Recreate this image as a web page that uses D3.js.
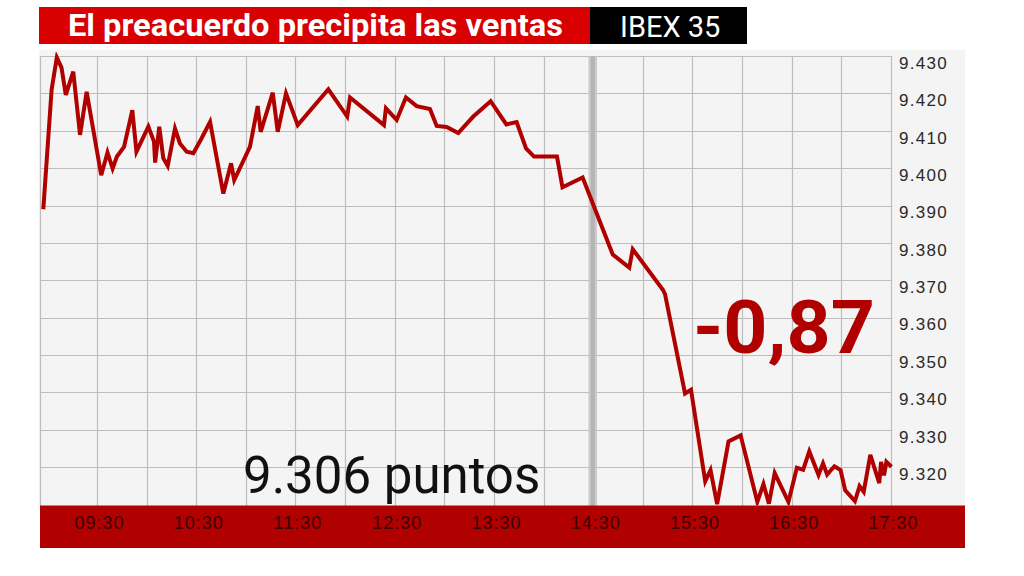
<!DOCTYPE html>
<html><head><meta charset="utf-8">
<script src="https://cdn.jsdelivr.net/npm/d3@7"></script>
<style>
html,body{margin:0;padding:0;background:#fff;}
svg{display:block;}
</style></head>
<body>
<svg id="c" width="1024" height="576"></svg>
<script>
// ---- data ----
const titleText = "El preacuerdo precipita las ventas";
const indexName = "IBEX 35";
const closeText = "9.306 puntos";
const changeText = "-0,87";
const times = ["08:57:00","09:02:00","09:05:10","09:08:00","09:10:36","09:15:06","09:19:12","09:23:12","09:32:00","09:35:48",
"09:38:54","09:41:30","09:45:48","09:50:48","09:53:18","10:00:30","10:03:54","10:04:36","10:07:06","10:09:30",
"10:12:12","10:16:36","10:19:36","10:23:42","10:27:42","10:32:42","10:37:48","10:45:48","10:50:30","10:52:24",
"11:01:54","11:06:36","11:08:24","11:15:42","11:18:42","11:23:42","11:30:48","11:49:18","12:00:42","12:02:24",
"12:22:54","12:24:06","12:30:36","12:36:12","12:42:42","12:50:42","12:54:48","13:00:48","13:07:48","13:16:54",
"13:27:24","13:36:54","13:43:06","13:48:48","13:53:36","14:07:30","14:10:48","14:23:00","14:41:12","14:51:12",
"14:53:18","15:11:36","15:12:48","15:24:54","15:28:30","15:37:06","15:40:18","15:44:18","15:51:12","15:58:30",
"16:08:36","16:12:18","16:15:36","16:19:06","16:27:24","16:32:30","16:36:18","16:40:00","16:45:36","16:48:18",
"16:50:48","16:52:30","16:55:12","16:58:54","17:01:42","17:07:36","17:10:24","17:12:54","17:16:54","17:22:18",
"17:23:24","17:25:12","17:26:36","17:29:42"];
const values = [9389.0,9420.9,9429.6,9426.9,9419.6,9425.8,9408.9,9420.4,9398.1,9404.2,
9399.9,9403.1,9405.7,9415.5,9404.4,9411.1,9407.1,9401.5,9411.1,9402.7,
9400.6,9410.6,9406.6,9404.4,9404.0,9408.0,9412.4,9393.2,9401.3,9396.8,
9405.7,9416.6,9409.7,9420.2,9409.7,9420.0,9411.5,9421.1,9413.8,9418.9,
9411.5,9416.0,9412.9,9418.9,9416.6,9415.8,9411.3,9411.0,9409.4,9413.8,
9417.9,9411.7,9412.3,9405.3,9403.1,9403.1,9394.9,9397.5,9376.9,9373.4,
9378.3,9367.4,9366.3,9339.7,9340.7,9316.2,9319.2,9310.1,9326.9,9328.5,
9310.7,9315.5,9310.2,9318.4,9310.7,9319.8,9319.3,9324.2,9317.9,9321.0,
9318.0,9318.9,9320.2,9319.2,9313.8,9310.9,9314.9,9313.4,9323.3,9315.7,
9321.4,9317.8,9321.4,9320.1];
const yTicks = [9320,9330,9340,9350,9360,9370,9380,9390,9400,9410,9420,9430];
const xTickLabels = ["09:30","10:30","11:30","12:30","13:30","14:30","15:30","16:30","17:30"];
const gridTimes = ["09:30","10:00","10:30","11:00","11:30","12:00","12:30","13:00","13:30","14:00","14:30","15:00","15:30","16:00","16:30","17:00","17:30"];
const highlightTime = "14:30";
const xDomain = ["08:55","17:30"];
const yDomain = [9310, 9430];

// ---- setup ----
const parseS = d3.timeParse("%H:%M:%S");
const parseM = d3.timeParse("%H:%M");
const data = times.map((t,i)=>({t:parseS(t), v:values[i]}));
const svg = d3.select("#c");
const L = 40, R = 892, T = 56, B = 504.5;
const x = d3.scaleTime().domain(xDomain.map(parseM)).range([L, R]);
const y = d3.scaleLinear().domain(yDomain).range([B, T]);
const es = d3.formatLocale({decimal:",", thousands:".", grouping:[3], currency:["","€"]});
const fmt = es.format(",.0f");

// title
svg.append("rect").attr("x",39).attr("y",7).attr("width",551).attr("height",37).attr("fill","#d80000");
svg.append("rect").attr("x",590).attr("y",7).attr("width",157).attr("height",37).attr("fill","#000");
svg.append("text").attr("x",68).attr("y",36).attr("fill","#fff")
  .attr("font-family","Roboto").attr("font-weight","bold").attr("font-size",31)
  .attr("textLength",495).attr("lengthAdjust","spacingAndGlyphs").text(titleText);
svg.append("text").attr("x",620).attr("y",37).attr("fill","#fff")
  .attr("font-family","Roboto").attr("font-size",29).text(indexName);

// panel
svg.append("rect").attr("x",39).attr("y",50).attr("width",926).attr("height",456).attr("fill","#f4f4f4");

// grid
const g = svg.append("g");
g.selectAll("line.h").data(yTicks.concat([9430])).join("line")
  .attr("x1",L).attr("x2",891).attr("y1",d=>Math.round(y(d))+0.5).attr("y2",d=>Math.round(y(d))+0.5)
  .attr("stroke","#bdbdbd").attr("stroke-width",1.2);
g.selectAll("line.v").data(gridTimes.map(parseM)).join("line")
  .attr("x1",d=>Math.round(x(d))-0.5).attr("x2",d=>Math.round(x(d))-0.5).attr("y1",T).attr("y2",506)
  .attr("stroke","#bdbdbd").attr("stroke-width",1.2);
g.append("line").attr("x1",L+0.5).attr("x2",L+0.5).attr("y1",T).attr("y2",506).attr("stroke","#bdbdbd").attr("stroke-width",1.2);
// highlighted band
const hx = x(parseM(highlightTime));
g.append("rect").attr("x",hx-5.7).attr("y",T).attr("width",8.4).attr("height",506-T).attr("fill","#cacaca");
g.append("rect").attr("x",hx-3.5).attr("y",T).attr("width",4).attr("height",506-T).attr("fill","#b4b4b4");

// y axis labels
const yAxis = d3.axisRight(y).tickValues(yTicks).tickSize(0).tickPadding(0).tickFormat(fmt);
const ya = svg.append("g").attr("transform",`translate(899,0)`).call(yAxis);
ya.select(".domain").remove();
ya.selectAll("text").attr("font-family","Liberation Sans, Arial").attr("font-size",17)
  .attr("fill","#2a2a2a").attr("letter-spacing","1.3px").attr("dy","0.72em").attr("x",0);

// bottom red bar
svg.append("rect").attr("x",40).attr("y",505.5).attr("width",925).attr("height",42.5).attr("fill","#b10000");
const xAxis = d3.axisBottom(x).tickValues(xTickLabels.map(parseM)).tickSize(0).tickPadding(0).tickFormat(d3.timeFormat("%H:%M"));
const xa = svg.append("g").attr("transform","translate(1,511.5)").call(xAxis);
xa.select(".domain").remove();
xa.selectAll("text").attr("font-family","Liberation Sans, Arial").attr("font-size",18)
  .attr("fill","#3a0000").attr("letter-spacing","1px").attr("dy","0.95em");

// line
svg.append("clipPath").attr("id","clip").append("rect").attr("x",L).attr("y",T-4).attr("width",R-L+4).attr("height",505.5-(T-4));
const line = d3.line().x(d=>x(d.t)).y(d=>y(d.v));
svg.append("path").datum(data).attr("d",line).attr("clip-path","url(#clip)")
  .attr("fill","none").attr("stroke","#b00000").attr("stroke-width",4).attr("stroke-linejoin","miter").attr("stroke-miterlimit",4);

// annotations
svg.append("text").attr("x",243).attr("y",493).attr("font-family","Roboto").attr("font-size",51).attr("fill","#111").text(closeText);
svg.append("text").attr("x",693).attr("y",353).attr("font-family","Roboto").attr("font-weight","bold").attr("font-size",74)
  .attr("textLength",182).attr("lengthAdjust","spacingAndGlyphs")
  .attr("fill","#b00000").text(changeText);
</script>
</body></html>
